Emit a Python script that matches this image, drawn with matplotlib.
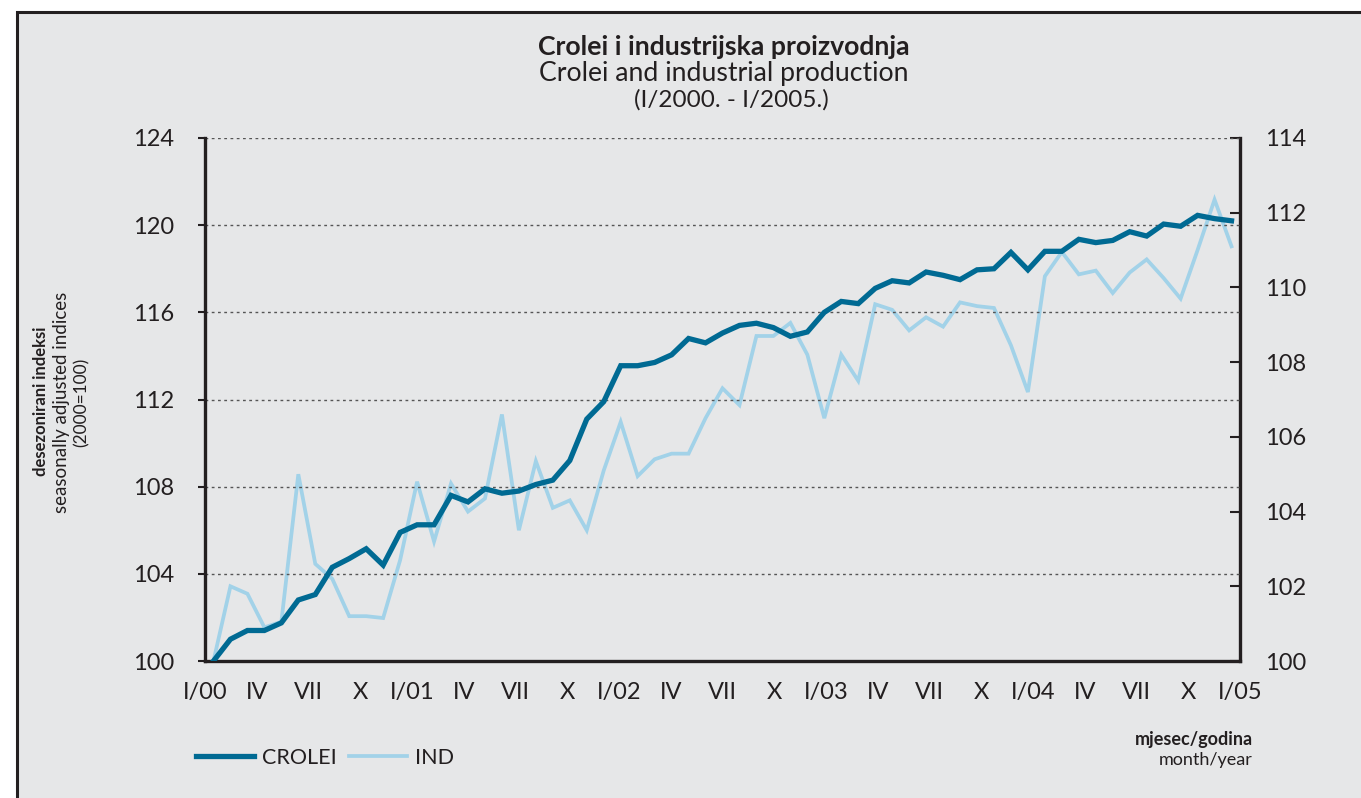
import matplotlib
matplotlib.use("Agg")
import matplotlib.pyplot as plt
from matplotlib.patches import Rectangle

plt.rcParams['font.family'] = ['Lato', 'DejaVu Sans']

# data: monthly, I/2000 - I/2005
crolei = [100.0, 101.0, 101.4, 101.4, 101.75, 102.8, 103.05, 104.3, 104.7, 105.15,
          104.4, 105.9, 106.25, 106.25, 107.6, 107.3, 107.9, 107.7, 107.8, 108.1,
          108.3, 109.2, 111.1, 111.9, 113.55, 113.55, 113.7, 114.05, 114.8, 114.6,
          115.05, 115.4, 115.5, 115.3, 114.9, 115.1, 116.0, 116.5, 116.4, 117.1,
          117.45, 117.35, 117.85, 117.7, 117.5, 117.95, 118.0, 118.75, 117.95, 118.8,
          118.8, 119.35, 119.2, 119.3, 119.7, 119.5, 120.05, 119.95, 120.45, 120.3,
          120.2]
ind = [100.0, 102.0, 101.8, 100.9, 101.05, 105.0, 102.6, 102.2, 101.2, 101.2,
       101.15, 102.7, 104.8, 103.2, 104.75, 104.0, 104.35, 106.6, 103.5, 105.35,
       104.1, 104.3, 103.5, 105.1, 106.4, 104.95, 105.4, 105.55, 105.55, 106.5,
       107.3, 106.85, 108.7, 108.7, 109.05, 108.2, 106.5, 108.2, 107.5, 109.55,
       109.4, 108.85, 109.2, 108.95, 109.6, 109.5, 109.45, 108.45, 107.2, 110.3,
       110.95, 110.35, 110.45, 109.85, 110.4, 110.75, 110.25, 109.7, 111.0, 112.35,
       111.1]
xlabels = ['I/00', 'IV', 'VII', 'X', 'I/01', 'IV', 'VII', 'X', 'I/02', 'IV', 'VII',
           'X', 'I/03', 'IV', 'VII', 'X', 'I/04', 'IV', 'VII', 'X', 'I/05']
left_ticks = [100, 104, 108, 112, 116, 120, 124]
right_ticks = [100, 102, 104, 106, 108, 110, 112, 114]

bg = '#e6e7e8'
dark = '#231f20'
c_crolei = '#006a93'
c_ind = '#a2d2e8'

fig = plt.figure(figsize=(13.61, 7.98), dpi=100, facecolor='white')
W, H = 1361, 798
# grey panel with dark border (top and left edges visible)
fig.add_artist(Rectangle((17 / W, -0.05), 1.1, 1 - 12 / H + 0.05, transform=fig.transFigure,
                         facecolor=bg, edgecolor=dark, linewidth=2.2, zorder=0))

ax = fig.add_axes([205 / W, 1 - 661 / H, (1240 - 205) / W, (661 - 138) / H])
ax.patch.set_alpha(0)
x = list(range(len(crolei)))
ax.set_xlim(-0.5, len(crolei) - 0.5)
ax.set_ylim(100, 124)
ax.set_yticks(left_ticks)
for t in left_ticks[1:]:
    ax.axhline(t, color='#555555', linewidth=1.0, linestyle=(0, (2, 2.5)), zorder=1)

ax2 = ax.twinx()
ax2.set_ylim(100, 114)
ax2.set_yticks(right_ticks)

ln1, = ax.plot(x, crolei, color=c_crolei, linewidth=3.8, solid_joinstyle='miter', zorder=4)
ln2, = ax2.plot(x, ind, color=c_ind, linewidth=2.7, solid_joinstyle='miter', zorder=3)
ax.set_zorder(ax2.get_zorder() + 1)

# month labels spread evenly from spine to spine
n = len(xlabels) - 1
lo, hi = ax.get_xlim()
ax.set_xticks([lo + (hi - lo) * k / n for k in range(len(xlabels))])
ax.set_xticklabels(xlabels)

for a in (ax, ax2):
    for s in a.spines.values():
        s.set_color(dark)
        s.set_linewidth(2.4)
    a.spines['top'].set_visible(False)
ax.spines['right'].set_visible(False)
ax2.spines['left'].set_visible(False)
ax2.spines['bottom'].set_visible(False)

ax.tick_params(axis='x', length=0, pad=15, labelsize=17, colors=dark)
ax.tick_params(axis='y', direction='out', length=5, width=1.5, pad=17, labelsize=17, colors=dark)
ax2.tick_params(axis='y', direction='in', length=7, width=1.5, pad=18, labelsize=17, colors=dark)

fig.text(724 / W, 1 - 47 / H, 'Crolei i industrijska proizvodnja', ha='center', va='center',
         fontsize=19.2, fontweight='bold', color=dark)
fig.text(724 / W, 1 - 73 / H, 'Crolei and industrial production', ha='center', va='center',
         fontsize=19.2, color=dark)
fig.text(731 / W, 1 - 100 / H, '(I/2000. - I/2005.)', ha='center', va='center',
         fontsize=17.5, color=dark)

fig.text(41 / W, 1 - 401 / H, 'desezonirani indeksi', rotation=90, ha='center', va='center',
         fontsize=12, fontweight='bold', color=dark)
fig.text(62 / W, 1 - 402 / H, 'seasonally adjusted indices', rotation=90, ha='center', va='center',
         fontsize=13.5, color=dark)
fig.text(82 / W, 1 - 402 / H, '(2000=100)', rotation=90, ha='center', va='center',
         fontsize=12.5, color=dark)

fig.text(1253 / W, 1 - 740 / H, 'mjesec/godina', ha='right', va='center',
         fontsize=13, fontweight='bold', color=dark)
fig.text(1253 / W, 1 - 760 / H, 'month/year', ha='right', va='center',
         fontsize=13, color=dark)

fig.legend([ln1, ln2], ['CROLEI', 'IND'], loc='center left', bbox_to_anchor=(196 / W, 1 - 758 / H),
           ncol=2, frameon=False, fontsize=15.5, handlelength=2.7, handletextpad=0.35,
           columnspacing=0.6, labelcolor=dark, borderpad=0, borderaxespad=0)

fig.savefig('out.png', dpi=100, facecolor='white')
